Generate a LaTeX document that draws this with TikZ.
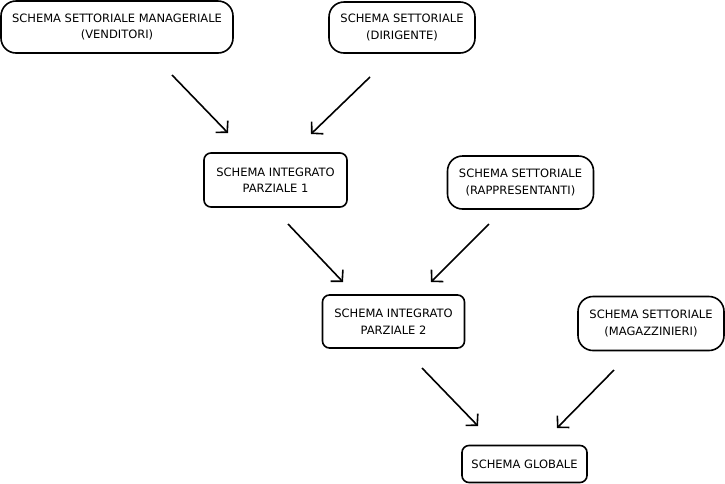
\documentclass[tikz,border=0pt]{standalone}
\usepackage{fontspec}
\setmainfont{DejaVu Sans}
\usetikzlibrary{arrows.meta}

\begin{document}
\begin{tikzpicture}[x=1pt, y=-1pt,
    settore/.style={draw, line width=1.6pt, rounded corners=15pt, align=center, inner sep=0pt, font=\fontsize{11.5}{16.5}\selectfont},
    integrato/.style={settore, rounded corners=7pt},
    arr/.style={-{Straight Barb[length=8pt, width=17pt, line width=1.6pt]}, line width=1.6pt}
]
    \useasboundingbox (0,0) rectangle (725,483);

    \node[settore, minimum width=232pt, minimum height=52pt] (venditori) at (117,27) {SCHEMA SETTORIALE MANAGERIALE\\(VENDITORI)};
    \node[settore, minimum width=146pt, minimum height=51pt] (dirigente) at (402,27.5) {SCHEMA SETTORIALE\\(DIRIGENTE)};
    \node[integrato, minimum width=143pt, minimum height=54pt] (parziale1) at (275.5,180) {SCHEMA INTEGRATO\\PARZIALE 1};
    \node[settore, minimum width=146pt, minimum height=53pt] (rappresentanti) at (520.5,182.5) {SCHEMA SETTORIALE\\(RAPPRESENTANTI)};
    \node[integrato, minimum width=142pt, minimum height=53pt] (parziale2) at (393.5,321.5) {SCHEMA INTEGRATO\\PARZIALE 2};
    \node[settore, minimum width=146pt, minimum height=54pt] (magazzinieri) at (651,323.5) {SCHEMA SETTORIALE\\(MAGAZZINIERI)};
    \node[integrato, minimum width=125pt, minimum height=37pt] (globale) at (524.5,464) {SCHEMA GLOBALE};

    \coordinate (venditori-out) at (172,75);
    \coordinate (dirigente-out) at (370,77);
    \coordinate (parziale1-in-a) at (228,133);
    \coordinate (parziale1-in-b) at (311,134);
    \coordinate (parziale1-out) at (288,224);
    \coordinate (rappresentanti-out) at (489,224);
    \coordinate (parziale2-in-a) at (343,282);
    \coordinate (parziale2-in-b) at (431,282);
    \coordinate (parziale2-out) at (422,368);
    \coordinate (magazzinieri-out) at (614,370);
    \coordinate (globale-in-a) at (478,426);
    \coordinate (globale-in-b) at (557,428);

    \draw[arr] (venditori-out) -- (parziale1-in-a);
    \draw[arr] (dirigente-out) -- (parziale1-in-b);
    \draw[arr] (parziale1-out) -- (parziale2-in-a);
    \draw[arr] (rappresentanti-out) -- (parziale2-in-b);
    \draw[arr] (parziale2-out) -- (globale-in-a);
    \draw[arr] (magazzinieri-out) -- (globale-in-b);
\end{tikzpicture}
\end{document}
